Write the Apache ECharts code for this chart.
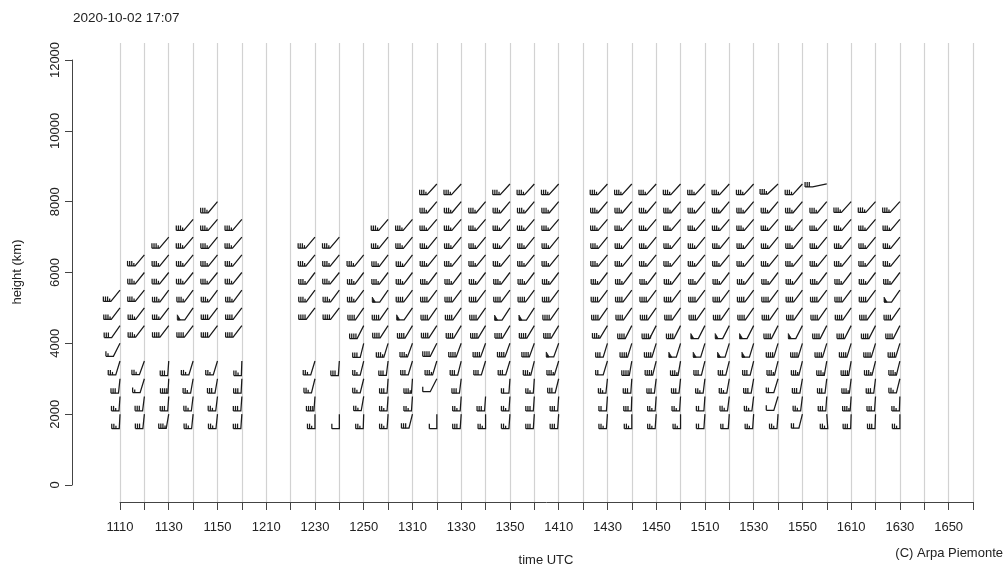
<!DOCTYPE html>
<html>
<head>
<meta charset="utf-8">
<script src="https://cdn.jsdelivr.net/npm/echarts/dist/echarts.min.js"></script>
<style>
  html, body { margin: 0; padding: 0; background: #ffffff; }
  #chart { width: 1004px; height: 566px; }
</style>
</head>
<body>
<div id="chart"></div>
<script>
// Wind profiler soundings, 2020-10-02: one column of barbs per 10-minute profile.
const issued = '2020-10-02 17:07';
const xTitle = 'time UTC';
const yTitle = 'height (km)';
const credit = '(C) Arpa Piemonte';

// profile times (UTC, hhmm)
const times = ['1110','1120','1130','1140','1150','1200','1230','1240','1250','1300',
               '1310','1320','1330','1340','1350','1400','1410','1430','1440','1450',
               '1500','1510','1520','1530','1540','1550','1600','1610','1620','1630'];

// range gates (m), bottom to top
const levels = [2000,2500,3000,3500,4000,4500,5000,5500,6000,6500,7000,7500,8000,8500];

// wind speed (kt) per profile, one value per gate; null = no valid measurement
const speed = [
  [25,25,30,25,15,30,35,35,null,null,null,null,null,null],
  [30,30,15,25,null,35,35,35,35,35,null,null,null,null],
  [35,30,40,30,null,40,35,35,35,35,35,null,null,null],
  [25,25,25,25,null,40,50,35,35,35,35,35,null,null],
  [25,25,30,25,null,40,40,35,35,35,35,35,35,null],
  [30,30,30,25,null,40,40,35,35,35,35,35,null,null],
  [25,40,25,25,null,null,40,35,35,35,35,null,null,null],
  [10,null,null,30,null,null,40,35,35,35,35,null,null,null],
  [25,25,25,25,30,40,40,35,35,35,null,null,null,null],
  [25,25,30,30,35,40,40,50,35,35,35,35,null,null],
  [30,25,35,30,35,40,50,40,35,35,35,35,null,null],
  [10,null,10,35,40,40,40,40,35,35,35,35,35,35],
  [30,25,30,30,40,40,40,40,35,35,35,35,35,35],
  [25,30,null,30,40,40,40,40,35,35,35,35,35,null],
  [25,25,20,30,40,40,50,40,35,35,35,35,35,35],
  [30,30,25,35,40,40,50,40,35,35,35,35,35,35],
  [30,30,30,35,50,40,40,40,35,35,35,35,35,35],
  [25,20,25,20,30,35,40,40,35,35,35,35,35,35],
  [25,30,30,40,40,40,40,40,35,35,35,35,35,35],
  [25,25,30,40,40,45,40,40,35,35,35,35,35,35],
  [25,25,30,35,50,40,40,40,35,35,35,35,35,35],
  [20,20,25,30,50,50,40,40,35,35,35,35,35,35],
  [20,25,25,30,50,50,40,40,35,35,35,35,35,35],
  [25,25,30,30,50,50,40,40,35,35,35,35,35,35],
  [25,10,20,35,40,40,40,40,35,35,35,35,35,35],
  [20,25,30,35,40,50,40,40,35,35,35,35,35,35],
  [25,30,30,35,40,40,40,40,35,35,35,35,35,30],
  [30,35,35,40,40,40,40,40,35,35,35,35,35,null],
  [30,30,30,35,40,40,40,40,35,35,35,35,35,null],
  [25,25,25,35,40,40,40,50,35,35,35,35,35,null]
];

// wind direction (degrees, direction the wind blows from)
const direction = [
  [183,184,186,197,207,215,217,219,null,null,null,null,null,null],
  [186,187,197,200,null,217,217,219,219,220,null,null,null,null],
  [190,184,183,184,null,217,217,217,219,219,220,null,null,null],
  [186,187,190,197,null,217,215,217,219,219,220,220,null,null],
  [186,187,190,197,null,217,217,217,219,219,219,220,220,null],
  [184,184,183,182,null,217,217,217,219,219,220,220,null,null],
  [180,184,194,197,null,null,217,217,217,219,220,null,null,null],
  [180,null,null,184,null,null,217,217,219,219,220,null,null,null],
  [182,190,194,194,194,207,215,217,217,219,null,null,null,null],
  [184,184,184,187,197,213,215,215,217,217,219,220,null,null],
  [194,184,184,197,200,211,215,217,217,217,219,220,null,null],
  [180,null,207,197,207,213,215,217,217,219,219,220,220,222],
  [184,184,187,194,200,211,215,217,217,219,219,220,220,222],
  [180,184,null,197,200,211,215,217,217,219,219,220,220,null],
  [184,184,184,197,200,211,213,217,217,219,219,220,220,222],
  [184,184,184,194,200,211,213,217,217,219,219,220,220,222],
  [184,184,194,197,200,211,215,217,217,219,219,220,220,222],
  [184,184,186,197,197,211,215,217,217,219,219,220,220,222],
  [180,182,184,190,197,207,215,217,217,219,219,220,220,222],
  [184,184,187,194,197,207,215,217,217,219,219,220,220,222],
  [180,184,186,190,197,207,215,217,217,219,219,220,220,222],
  [184,184,187,194,197,207,215,217,217,219,219,220,220,222],
  [184,187,190,194,197,207,215,217,217,219,219,220,220,222],
  [184,187,190,194,197,207,215,217,217,219,219,220,220,222],
  [184,197,197,194,197,207,215,217,217,219,219,220,220,226],
  [194,187,190,194,197,207,215,217,217,219,219,220,220,222],
  [176,184,187,190,197,207,215,217,217,219,219,220,220,258],
  [182,184,187,190,197,207,215,217,217,219,219,220,222,null],
  [182,184,187,194,197,207,215,217,217,219,219,220,222,null],
  [180,182,194,194,197,207,215,215,217,219,219,220,222,null]
];

// time axis: 11:10 to 17:00 UTC, ticks every 10 min, labels every 20 min
const axisStart = '1110';
const axisEnd = '1700';
const tickLabels = ['1110','1130','1150','1210','1230','1250','1310','1330','1350','1410',
                    '1430','1450','1510','1530','1550','1610','1630','1650'];
const heightTicks = [0, 2000, 4000, 6000, 8000, 10000, 12000];

function toMinutes(hhmm) {
  return parseInt(hhmm.slice(0, 2), 10) * 60 + parseInt(hhmm.slice(2), 10);
}
function toHHMM(m) {
  const h = Math.floor(m / 60), mm = m % 60;
  return String(h) + (mm < 10 ? '0' : '') + String(mm);
}

// flatten profiles into [time, height, direction, speed] records
const barbs = [];
times.forEach((t, i) => {
  levels.forEach((h, j) => {
    const s = speed[i][j], d = direction[i][j];
    if (s !== null && d !== null) barbs.push([toMinutes(t), h, d, s]);
  });
});

// barb glyph dimensions (px): staff toward the wind origin, a horizontal
// foot at its end, and upright feathers counted from the far end of the foot
const STAFF = 14.5, BASE = 7.5, FULL = 5, HALF = 3, STEP = 2.1, FLAG_W = 3, FLAG_H = 5;
const INK = '#1a1a1a';
const PEN = 1.25;

function renderBarb(params, api) {
  const t = api.value(0), h = api.value(1), dir = api.value(2), spd = api.value(3);
  const p0 = api.coord([t, h]);
  const th = dir * Math.PI / 180;
  const ux = Math.sin(th), uy = -Math.cos(th);
  const px = p0[0] + STAFF * ux, py = p0[1] + STAFF * uy;
  const ex = px - BASE, ey = py;
  const children = [{
    type: 'polyline',
    shape: { points: [[p0[0], p0[1]], [px, py], [ex, ey]] },
    style: { stroke: INK, lineWidth: PEN, fill: null }
  }];
  let rest = Math.round(spd / 5) * 5;
  const flags = Math.floor(rest / 50); rest -= flags * 50;
  const fulls = Math.floor(rest / 10); rest -= fulls * 10;
  const halves = rest >= 5 ? 1 : 0;
  let d = 0;
  for (let k = 0; k < flags; k++) {
    const a = ex + d, b = ex + d + FLAG_W;
    children.push({
      type: 'polygon',
      shape: { points: [[a, ey], [b, ey], [a, ey - FLAG_H]] },
      style: { fill: INK, stroke: INK, lineWidth: 0.8 }
    });
    d += FLAG_W + 1;
  }
  for (let k = 0; k < fulls; k++) {
    const a = ex + d;
    children.push({
      type: 'line',
      shape: { x1: a, y1: ey, x2: a, y2: ey - FULL },
      style: { stroke: INK, lineWidth: PEN }
    });
    d += STEP;
  }
  for (let k = 0; k < halves; k++) {
    const a = ex + d;
    children.push({
      type: 'line',
      shape: { x1: a, y1: ey, x2: a, y2: ey - HALF },
      style: { stroke: INK, lineWidth: PEN }
    });
    d += STEP;
  }
  return { type: 'group', children };
}

const FONT = '"Liberation Sans", Arial, Helvetica, sans-serif';
const tMin = toMinutes(axisStart), tMax = toMinutes(axisEnd);
const labelSet = new Set(tickLabels);

const chart = echarts.init(document.getElementById('chart'), null, { renderer: 'canvas' });
chart.setOption({
  animation: false,
  backgroundColor: '#ffffff',
  textStyle: { fontFamily: FONT },
  title: [
    { text: issued, left: 73, top: 11, padding: 0,
      textStyle: { fontSize: 13.5, fontWeight: 'normal', color: '#222', fontFamily: FONT } },
    { text: credit, right: 1, top: 547, padding: 0,
      textStyle: { fontSize: 13, fontWeight: 'normal', color: '#222', fontFamily: FONT } }
  ],
  graphic: [
    { type: 'text', x: 546, y: 560, silent: true,
      style: { text: xTitle, fill: '#222', font: '13px ' + FONT, align: 'center', verticalAlign: 'middle' } },
    { type: 'text', x: 17, y: 272, rotation: Math.PI / 2, silent: true,
      style: { text: yTitle, fill: '#222', font: '13px ' + FONT, align: 'center', verticalAlign: 'middle' } }
  ],
  grid: [
    // plotting region (includes the 4% padding around the height range)
    { left: 120, right: 31, top: 43, bottom: 64, outerBoundsMode: 'none', containLabel: false },
    // height-axis span 0..12000 m
    { left: 120, right: 31, top: 60, bottom: 81, outerBoundsMode: 'none', containLabel: false }
  ],
  xAxis: [
    {
      gridIndex: 0, type: 'value', min: tMin, max: tMax, interval: 10,
      axisLine: { show: true, onZero: false, lineStyle: { color: '#444', width: 1 } },
      axisTick: { show: true, length: 8, lineStyle: { color: '#444', width: 1 } },
      axisLabel: {
        margin: 19, fontSize: 13, color: '#222', fontFamily: FONT,
        showMinLabel: true, showMaxLabel: true, hideOverlap: false,
        formatter: (v) => { const s = toHHMM(v); return labelSet.has(s) ? s : ''; }
      },
      splitLine: { show: true, lineStyle: { color: '#d2d2d2', width: 1.2 } }
    },
    { gridIndex: 1, type: 'value', min: tMin, max: tMax, show: false }
  ],
  yAxis: [
    { gridIndex: 0, type: 'value', min: -480, max: 12480, show: false, splitLine: { show: false } },
    {
      gridIndex: 1, type: 'value', min: heightTicks[0], max: heightTicks[heightTicks.length - 1],
      interval: 2000, offset: 48,
      axisLine: { show: true, lineStyle: { color: '#444', width: 1 } },
      axisTick: { show: true, length: 7, lineStyle: { color: '#444', width: 1 } },
      axisLabel: { rotate: 90, margin: 10, fontSize: 13, color: '#222', fontFamily: FONT,
                   formatter: (v) => String(v) },
      splitLine: { show: false }
    }
  ],
  series: [{
    type: 'custom',
    xAxisIndex: 0, yAxisIndex: 0,
    clip: false,
    renderItem: renderBarb,
    data: barbs,
    silent: true
  }]
});
</script>
</body>
</html>
